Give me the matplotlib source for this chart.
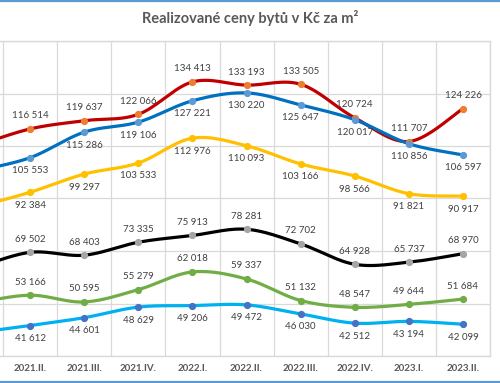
import numpy as np
import matplotlib
matplotlib.use("Agg")
import matplotlib.pyplot as plt
from matplotlib.lines import Line2D

plt.rcParams['font.family'] = ['Lato', 'DejaVu Sans']

categories = ["2021.I.", "2021.II.", "2021.III.", "2021.IV.", "2022.I.", "2022.II.",
              "2022.III.", "2022.IV.", "2023.I.", "2023.II."]
red = [110000, 116514, 119637, 122066, 134413, 133193, 133505, 120724, 111707, 124226]
blue = [100500, 105553, 115286, 119106, 127221, 130220, 125647, 120017, 110856, 106597]
yellow = [86700, 92384, 99297, 103533, 112976, 110093, 103166, 98566, 91821, 90917]
black = [63500, 69502, 68403, 73335, 75913, 78281, 72702, 64928, 65737, 68970]
green = [50200, 53166, 50595, 55279, 62018, 59337, 51132, 48547, 49644, 51684]
lightblue = [38900, 41612, 44601, 48629, 49206, 49472, 46030, 42512, 43194, 42099]

series = [
    (red, "#C00000", "#ED7D31", 1),
    (blue, "#0070C0", "#5B9BD5", -1),
    (yellow, "#FFC000", "#FFC000", -1),
    (black, "#000000", "#A5A5A5", 1),
    (green, "#70AD47", "#70AD47", 1),
    (lightblue, "#00B0F0", "#4472C4", -1),
]


def smooth(xs, ys, n=40):
    xs = np.asarray(xs, float)
    ys = np.asarray(ys, float)
    ox, oy = [], []
    m = len(xs)
    for i in range(m - 1):
        i0 = max(i - 1, 0)
        i3 = min(i + 2, m - 1)
        t = np.linspace(0, 1, n)
        res = []
        for arr in (xs, ys):
            p0, p1, p2, p3 = arr[i0], arr[i], arr[i + 1], arr[i3]
            c1 = p1 + (p2 - p0) / 6.0
            c2 = p2 - (p3 - p1) / 6.0
            b = ((1 - t) ** 3 * p1 + 3 * (1 - t) ** 2 * t * c1
                 + 3 * (1 - t) * t ** 2 * c2 + t ** 3 * p2)
            res.append(b)
        ox.append(res[0])
        oy.append(res[1])
    return np.concatenate(ox), np.concatenate(oy)


W, H = 500, 383
fig = plt.figure(figsize=(W / 100, H / 100), dpi=100)
ax = fig.add_axes([-51 / W, 27 / H, 541 / W, 315 / H])

x = np.arange(len(categories))
for vals, lc, mc, side in series:
    sx, sy = smooth(x, vals)
    ax.plot(sx, sy, color=lc, lw=2.3, solid_capstyle='round', zorder=3)
    ax.plot(x, vals, 'o', color=mc, ms=4.2, mec=mc, zorder=4)
    for xi, v in zip(x[1:], vals[1:]):
        ax.annotate(f"{v:,}".replace(",", " "), (xi, v),
                    xytext=(0, 13 * side), textcoords='offset pixels',
                    ha='center', va='center', fontsize=7, color='#404040', zorder=5)

ax.set_xlim(-0.5, len(categories) - 0.5)
ax.set_ylim(30000, 150000)
ax.set_yticks(np.arange(30000, 150001, 20000))
ax.set_yticklabels([])
ax.set_xticks(x[1:])
ax.set_xticklabels(categories[1:], fontsize=7, fontweight='bold', color='#595959')
ax.set_xticks(np.arange(-0.5, len(categories), 1), minor=True)
ax.tick_params(axis='both', which='both', length=0)
ax.tick_params(axis='x', pad=6)
ax.grid(True, which='major', axis='y', color='#D9D9D9', lw=0.9)
ax.grid(True, which='minor', axis='x', color='#D9D9D9', lw=0.9)
for s in ax.spines.values():
    s.set_color('#D9D9D9')
    s.set_linewidth(1.0)
ax.set_axisbelow(True)

fig.text(0.5, 1 - 18 / H, "Realizované ceny bytů v Kč za m²", ha='center', va='center',
         fontsize=10.5, fontweight='bold', color='#595959')

fig.add_artist(Line2D([0, 1], [1 - 1.2 / H] * 2, transform=fig.transFigure,
                      color='#5B9BD5', lw=1.6))
fig.add_artist(Line2D([0, 1], [1.4 / H] * 2, transform=fig.transFigure,
                      color='#5B9BD5', lw=1.6))

fig.savefig("out.png", dpi=100, facecolor='white')
